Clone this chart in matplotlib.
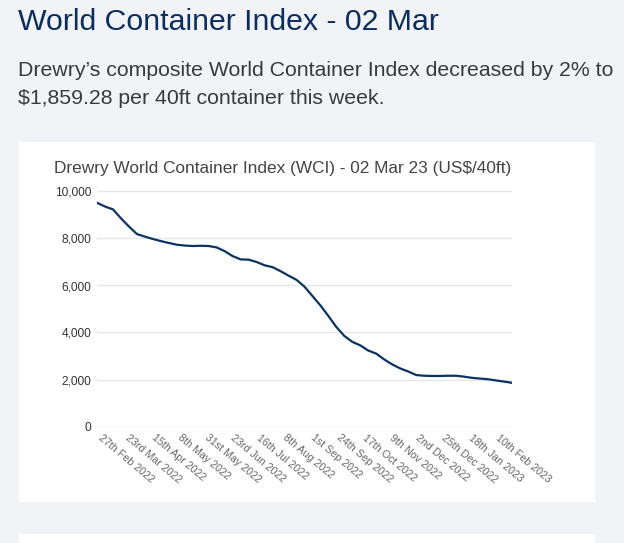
import pandas as pd
import matplotlib
matplotlib.use('Agg')
import matplotlib.pyplot as plt
from matplotlib.patches import Rectangle
from matplotlib.transforms import ScaledTranslation

# weekly composite WCI (US$/40ft)
wci_values = [9520, 9360, 9240, 8860, 8510, 8190, 8080, 7980, 7890, 7810,
              7735, 7700, 7680, 7690, 7680, 7620, 7460, 7250, 7110, 7100,
              7000, 6860, 6780, 6610, 6420, 6240, 5950, 5550, 5150, 4700,
              4230, 3850, 3600, 3450, 3230, 3100, 2850, 2640, 2470, 2340,
              2190, 2160, 2150, 2150, 2160, 2160, 2120, 2070, 2040, 2010,
              1960, 1910, 1859.28]
week_dates = pd.date_range('2022-02-27', periods=len(wci_values), freq='7D')

tick_dates = ['2022-02-27', '2022-03-23', '2022-04-15', '2022-05-08', '2022-05-31',
              '2022-06-23', '2022-07-16', '2022-08-08', '2022-09-01', '2022-09-24',
              '2022-10-17', '2022-11-09', '2022-12-02', '2022-12-25', '2023-01-18',
              '2023-02-10']
tick_labels = ['27th Feb 2022', '23rd Mar 2022', '15th Apr 2022', '8th May 2022',
               '31st May 2022', '23rd Jun 2022', '16th Jul 2022', '8th Aug 2022',
               '1st Sep 2022', '24th Sep 2022', '17th Oct 2022', '9th Nov 2022',
               '2nd Dec 2022', '25th Dec 2022', '18th Jan 2023', '10th Feb 2023']
y_ticks = [0, 2000, 4000, 6000, 8000, 10000]

W, H = 624, 543
plt.rcParams['font.family'] = ['Liberation Sans', 'DejaVu Sans']

fig = plt.figure(figsize=(W / 100, H / 100), dpi=100)
fig.patch.set_facecolor('#f2f3f7')


def fx(px):
    return px / W


def fy(py):
    return 1 - py / H


# white cards
fig.patches.append(Rectangle((fx(19), fy(502)), fx(595) - fx(19), fy(142) - fy(502),
                             transform=fig.transFigure, facecolor='white',
                             edgecolor='none', zorder=-1))
fig.patches.append(Rectangle((fx(19), 0), fx(595) - fx(19), fy(534),
                             transform=fig.transFigure, facecolor='white',
                             edgecolor='none', zorder=-1))

fig.text(fx(18), fy(22), 'World Container Index - 02 Mar', fontsize=21.8,
         color='#0b2e5e', va='center', ha='left')
fig.text(fx(18), fy(70), 'Drewry\u2019s composite World Container Index decreased by 2% to',
         fontsize=15.3, color='#3a3a3a', va='center', ha='left')
fig.text(fx(18), fy(98), '$1,859.28 per 40ft container this week.',
         fontsize=15.3, color='#3a3a3a', va='center', ha='left')
fig.text(fx(283), fy(168), 'Drewry World Container Index (WCI) - 02 Mar 23 (US$/40ft)',
         fontsize=12.4, color='#444444', va='center', ha='center')

ax = fig.add_axes([fx(97), fy(426.5), fx(512) - fx(97), fy(191.5) - fy(426.5)])
ax.set_zorder(2)
ax.set_facecolor('none')
ax.plot(week_dates, wci_values, color='#0c3264', linewidth=1.6, solid_capstyle='round')

ax.set_ylim(0, 10000)
ax.set_xlim(week_dates[0], week_dates[-1])
ax.set_yticks(y_ticks)
ax.set_yticklabels([f'{v:,}' for v in y_ticks])
ax.grid(axis='y', color='#e6e6e6', linewidth=1)
ax.set_axisbelow(True)
for s in ax.spines.values():
    s.set_visible(False)
ax.tick_params(axis='y', length=0, pad=4.3, labelsize=8.6, labelcolor='#333333')

ax.set_xticks(pd.to_datetime(tick_dates))
ax.set_xticklabels(tick_labels, rotation=-40, ha='left', va='top',
                   rotation_mode='anchor')
ax.tick_params(axis='x', length=0, pad=4.5, labelsize=7.7, labelcolor='#666666')
shift = ScaledTranslation(6 / 100, 0, fig.dpi_scale_trans)
for lab in ax.get_xticklabels():
    lab.set_transform(lab.get_transform() + shift)

fig.savefig('out.png', dpi=100, facecolor=fig.get_facecolor())
